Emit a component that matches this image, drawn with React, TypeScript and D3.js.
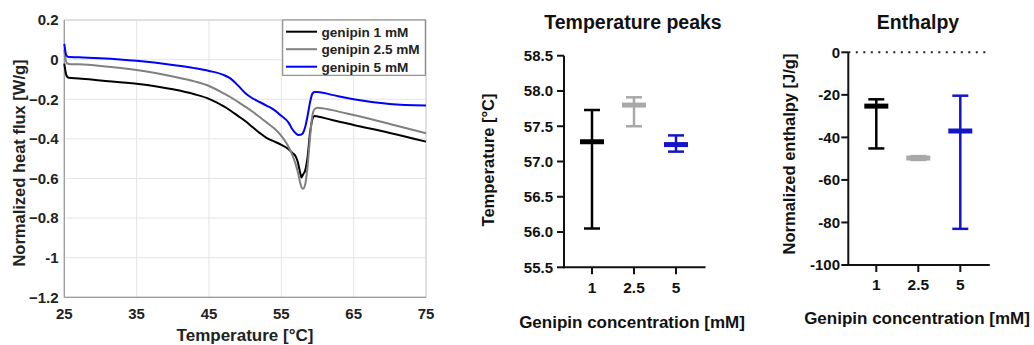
import React from "react";
import * as d3 from "d3";

// ---------- Data ----------
const temps = [25, 25.3, 25.6, 27, 30, 35, 40, 43, 45, 47, 48, 49, 50, 51, 52, 53, 54, 55, 56, 56.5, 57, 57.3, 57.6, 57.8, 58, 58.3, 58.6, 59, 59.3, 59.6, 60, 62, 65, 70, 75];
const flux1 = [-0.02, -0.08, -0.092, -0.095, -0.105, -0.122, -0.15, -0.175, -0.198, -0.235, -0.258, -0.284, -0.31, -0.34, -0.37, -0.396, -0.413, -0.43, -0.452, -0.47, -0.49, -0.52, -0.57, -0.595, -0.58, -0.56, -0.5, -0.36, -0.3, -0.285, -0.287, -0.305, -0.33, -0.37, -0.414];
const flux25 = [0.05, -0.015, -0.022, -0.024, -0.032, -0.052, -0.085, -0.11, -0.133, -0.17, -0.19, -0.213, -0.237, -0.262, -0.29, -0.318, -0.347, -0.385, -0.44, -0.48, -0.53, -0.57, -0.62, -0.645, -0.652, -0.63, -0.55, -0.38, -0.28, -0.25, -0.243, -0.255, -0.28, -0.325, -0.372];
const flux5 = [0.08, 0.02, 0.013, 0.012, 0.007, -0.006, -0.027, -0.043, -0.057, -0.077, -0.096, -0.13, -0.168, -0.195, -0.214, -0.233, -0.254, -0.284, -0.318, -0.35, -0.372, -0.38, -0.379, -0.377, -0.37, -0.34, -0.29, -0.21, -0.172, -0.164, -0.163, -0.178, -0.2, -0.224, -0.232];
const seriesNames = ["genipin 1 mM", "genipin 2.5 mM", "genipin 5 mM"];
const seriesColors = ["#000000", "#808080", "#0000ff"];
const xTicksLeft = [25, 35, 45, 55, 65, 75];
const yTicksLeft = [0.2, 0, -0.2, -0.4, -0.6, -0.8, -1, -1.2];

const categories = ["1", "2.5", "5"];
const catColors = ["#000000", "#a8a8a8", "#1515c8"];
const peakMean = [57.28, 57.8, 57.24];
const peakLow = [56.05, 57.5, 57.14];
const peakHigh = [57.73, 57.91, 57.37];
const peakTicks = [58.5, 58.0, 57.5, 57.0, 56.5, 56.0, 55.5];

const enthMean = [-25.3, -49.7, -37.0];
const enthLow = [-45.2, -50.6, -83.0];
const enthHigh = [-22.1, -48.8, -20.4];
const enthTicks = [0, -20, -40, -60, -80, -100];

const FONT = "Arial, 'Liberation Sans', sans-serif";

function LeftChart() {
  const x = d3.scaleLinear().domain([25, 75]).range([64.3, 426]);
  const y = d3.scaleLinear().domain([-1.2, 0.2]).range([297.3, 20]);
  const all = [flux1, flux25, flux5];
  const line = d3
    .line<[number, number]>()
    .x((d) => x(d[0]))
    .y((d) => y(d[1]))
    .curve(d3.curveMonotoneX);
  const fmt = (v: number) => (v === 0 ? "0" : v === -1 ? "-1" : d3.format(".1f")(v));
  return (
    <g>
      {xTicksLeft.map((t) => (
        <line key={"gx" + t} x1={x(t)} x2={x(t)} y1={y(0.2)} y2={y(-1.2)} stroke="#e4e4e4" strokeWidth={1} />
      ))}
      {yTicksLeft.map((t) => (
        <line key={"gy" + t} x1={x(25)} x2={x(75)} y1={y(t)} y2={y(t)} stroke="#e4e4e4" strokeWidth={1} />
      ))}
      <rect x={x(25)} y={y(0.2)} width={x(75) - x(25)} height={y(-1.2) - y(0.2)} fill="none" stroke="#d0d0d0" strokeWidth={1} />
      <line x1={x(25)} x2={x(25)} y1={y(0.2)} y2={y(-1.2)} stroke="#9a9a9a" strokeWidth={1.2} />
      <line x1={x(25)} x2={x(75)} y1={y(-1.2)} y2={y(-1.2)} stroke="#9a9a9a" strokeWidth={1.2} />
      {all.map((s, i) => (
        <path
          key={"s" + i}
          d={line(temps.map((t, j) => [t, s[j]] as [number, number])) || ""}
          fill="none"
          stroke={seriesColors[i]}
          strokeWidth={2}
        />
      ))}
      {xTicksLeft.map((t) => (
        <text key={"tx" + t} x={x(t)} y={318.5} textAnchor="middle" fontSize={15} fontWeight="bold" fill="#222">
          {t}
        </text>
      ))}
      {yTicksLeft.map((t) => (
        <text key={"ty" + t} x={58.5} y={y(t) + 5.3} textAnchor="end" fontSize={15} fontWeight="bold" fill="#222">
          {fmt(t)}
        </text>
      ))}
      <text x={245} y={340.5} textAnchor="middle" fontSize={17} fontWeight="bold" fill="#222">
        Temperature [°C]
      </text>
      <text transform="translate(25,163) rotate(-90)" textAnchor="middle" fontSize={16.5} fontWeight="bold" fill="#222">
        Normalized heat flux [W/g]
      </text>
      <rect x={282.7} y={20} width={142.6} height={55.3} fill="#fff" stroke="#7a7a7a" strokeWidth={1} />
      {seriesNames.map((n, i) => {
        const yy = 31.7 + i * 17.5;
        return (
          <g key={n}>
            <line x1={286} x2={317} y1={yy} y2={yy} stroke={seriesColors[i]} strokeWidth={2} />
            <text x={321.5} y={yy + 4.8} fontSize={13.6} fontWeight="bold" fill="#222">
              {n}
            </text>
          </g>
        );
      })}
    </g>
  );
}

function ErrorChart(props: {
  x0: number;
  y: d3.ScaleLinear<number, number>;
  ticks: number[];
  fmt: (v: number) => string;
  means: number[];
  lows: number[];
  highs: number[];
  title: string;
  titleX: number;
  ylabel: string;
  ylabelX: number;
  ylabelY: number;
  xlabelX: number;
  xlabelY: number;
  catY: number;
  tickRight: number;
  zeroLine?: boolean;
}) {
  const { x0, y, ticks, fmt, means, lows, highs } = props;
  const xEnd = x0 + 141.5;
  const xs = d3.scalePoint<string>().domain(categories).range([x0 + 28, x0 + 112]);
  const [ymin, ymax] = y.domain();
  return (
    <g>
      <text x={props.titleX} y={28.5} textAnchor="middle" fontSize={19.5} fontWeight="bold" fill="#111">
        {props.title}
      </text>
      {props.zeroLine && (
        <line x1={x0} x2={xEnd} y1={y(0)} y2={y(0)} stroke="#222" strokeWidth={2} strokeDasharray="2,5.5" />
      )}
      <line x1={x0} x2={x0} y1={y(ymax)} y2={y(ymin) + 1} stroke="#111" strokeWidth={2} />
      <line x1={x0 - 1} x2={xEnd} y1={y(ymin)} y2={y(ymin)} stroke="#111" strokeWidth={2} />
      {ticks.map((t) => (
        <g key={"t" + t}>
          <line x1={x0 - 7} x2={x0} y1={y(t)} y2={y(t)} stroke="#111" strokeWidth={2} />
          <text x={props.tickRight} y={y(t) + 5.3} textAnchor="end" fontSize={15} fontWeight="bold" fill="#111">
            {fmt(t)}
          </text>
        </g>
      ))}
      {categories.map((c, i) => {
        const cx = xs(c) as number;
        return (
          <g key={"c" + c}>
            <line x1={cx} x2={cx} y1={y(ymin)} y2={y(ymin) + 7} stroke="#111" strokeWidth={2} />
            <text x={cx} y={props.catY} textAnchor="middle" fontSize={15.5} fontWeight="bold" fill="#111">
              {c}
            </text>
            <line x1={cx} x2={cx} y1={y(lows[i])} y2={y(highs[i])} stroke={catColors[i]} strokeWidth={2.5} />
            <line x1={cx - 8} x2={cx + 8} y1={y(lows[i])} y2={y(lows[i])} stroke={catColors[i]} strokeWidth={2.5} />
            <line x1={cx - 8} x2={cx + 8} y1={y(highs[i])} y2={y(highs[i])} stroke={catColors[i]} strokeWidth={2.5} />
            <line x1={cx - 12} x2={cx + 12} y1={y(means[i])} y2={y(means[i])} stroke={catColors[i]} strokeWidth={5} />
          </g>
        );
      })}
      <text x={props.xlabelX} y={props.xlabelY} textAnchor="middle" fontSize={17} fontWeight="bold" fill="#111">
        Genipin concentration [mM]
      </text>
      <text
        transform={`translate(${props.ylabelX},${props.ylabelY}) rotate(-90)`}
        textAnchor="middle"
        fontSize={16.5}
        fontWeight="bold"
        fill="#111"
      >
        {props.ylabel}
      </text>
    </g>
  );
}

export default function App() {
  const yPeak = d3.scaleLinear().domain([55.5, 58.5]).range([267.3, 55.7]);
  const yEnth = d3.scaleLinear().domain([-100, 0]).range([265, 52.3]);
  return (
    <svg
      width={1034}
      height={345}
      style={{ position: "absolute", left: 0, top: 0, background: "#fff" }}
      fontFamily={FONT}
    >
      <rect width={1034} height={345} fill="#fff" />
      <LeftChart />
      <ErrorChart
        x0={564}
        y={yPeak}
        ticks={peakTicks}
        fmt={(v) => d3.format(".1f")(v)}
        means={peakMean}
        lows={peakLow}
        highs={peakHigh}
        title="Temperature peaks"
        titleX={633}
        ylabel="Temperature [°C]"
        ylabelX={494}
        ylabelY={160}
        xlabelX={632}
        xlabelY={328}
        catY={292.5}
        tickRight={553}
      />
      <ErrorChart
        x0={848.3}
        y={yEnth}
        ticks={enthTicks}
        fmt={(v) => String(v)}
        means={enthMean}
        lows={enthLow}
        highs={enthHigh}
        title="Enthalpy"
        titleX={918}
        ylabel="Normalized enthalpy [J/g]"
        ylabelX={794.5}
        ylabelY={154}
        xlabelX={917}
        xlabelY={324}
        catY={290}
        tickRight={840}
        zeroLine
      />
    </svg>
  );
}
